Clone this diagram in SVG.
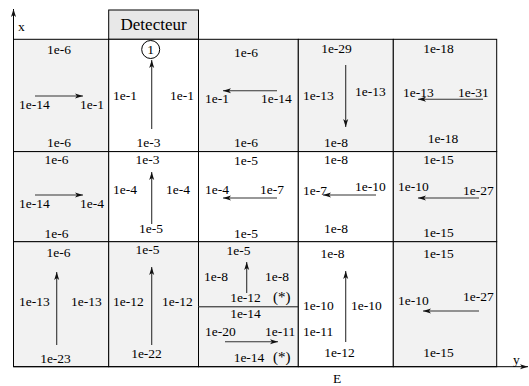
<svg xmlns="http://www.w3.org/2000/svg" width="529" height="386" viewBox="0 0 529 386" font-family="'Liberation Serif', 'Times New Roman', Times, serif">
<defs>
<style>
text{font-family:'Liberation Serif','Times New Roman',Times,serif;font-size:13.5px;fill:#000}
.m{text-anchor:middle}
.g{fill:#f2f2f2;stroke:#000;stroke-width:1}
.w{fill:#fff;stroke:#000;stroke-width:1}
.a{stroke:#333;stroke-width:1.1;fill:none;marker-end:url(#ah)}
</style>
<marker id="ah" markerUnits="userSpaceOnUse" markerWidth="9" markerHeight="6" refX="8" refY="3" orient="auto"><path d="M0,0.5 L8,3 L0,5.5 L2,3 z" fill="#111"/></marker>
</defs>
<rect width="529" height="386" fill="#fff"/>
<g id="detecteur"><rect x="108.7" y="10" width="89.8" height="29.3" fill="#e8e8e8" stroke="#000"/><text class="m" x="153.6" y="30" style="font-size:17px">Detecteur</text></g>
<g id="r1c1"><rect class="g" x="13.5" y="39.3" width="95.2" height="112.3"/><text class="m" x="59" y="54">1e-6</text><text x="19" y="109">1e-14</text><text x="80" y="109">1e-1</text><text class="m" x="59" y="147">1e-6</text></g>
<g id="r1c2"><rect class="w" x="108.7" y="39.3" width="89.8" height="112.3"/><circle cx="150.7" cy="49.5" r="9" fill="none" stroke="#000"/><text class="m" x="150.7" y="54">1</text><text x="113" y="100">1e-1</text><text x="170" y="100">1e-1</text><text class="m" x="148.5" y="147">1e-3</text></g>
<g id="r1c3"><rect class="g" x="198.5" y="39.3" width="99.8" height="112.3"/><text class="m" x="246" y="57">1e-6</text><text x="205" y="103">1e-1</text><text x="261" y="103">1e-14</text><text class="m" x="246" y="147">1e-6</text></g>
<g id="r1c4"><rect class="g" x="298.3" y="39.3" width="95" height="112.3"/><text class="m" x="336.5" y="53">1e-29</text><text x="303" y="100">1e-13</text><text x="355" y="96">1e-13</text><text class="m" x="336" y="147">1e-8</text></g>
<g id="r1c5"><rect class="g" x="393.3" y="39.3" width="103.4" height="112.3"/><text class="m" x="438.5" y="53">1e-18</text><text x="403" y="97">1e-13</text><text x="458" y="97">1e-31</text><text class="m" x="443" y="143">1e-18</text></g>
<g id="r2c1"><rect class="g" x="13.5" y="151.6" width="95.2" height="90.1"/><text class="m" x="56.5" y="164">1e-6</text><text x="19" y="208">1e-14</text><text x="80" y="208">1e-4</text><text class="m" x="56.5" y="237.5">1e-6</text></g>
<g id="r2c2"><rect class="w" x="108.7" y="151.6" width="89.8" height="90.1"/><text class="m" x="147.5" y="164">1e-3</text><text x="113" y="194">1e-4</text><text x="166" y="194">1e-4</text><text class="m" x="151" y="233">1e-5</text></g>
<g id="r2c3"><rect class="w" x="198.5" y="151.6" width="99.8" height="90.1"/><text class="m" x="246" y="165">1e-5</text><text x="205" y="194">1e-4</text><text x="260" y="194">1e-7</text><text class="m" x="246" y="237.5">1e-5</text></g>
<g id="r2c4"><rect class="w" x="298.3" y="151.6" width="95" height="90.1"/><text class="m" x="336" y="164">1e-8</text><text x="303" y="195">1e-7</text><text x="355" y="191">1e-10</text><text class="m" x="336" y="233">1e-8</text></g>
<g id="r2c5"><rect class="g" x="393.3" y="151.6" width="103.4" height="90.1"/><text class="m" x="438.5" y="164">1e-15</text><text x="398" y="191">1e-10</text><text x="463" y="195">1e-27</text><text class="m" x="438.5" y="237">1e-15</text></g>
<g id="r3c1"><rect class="g" x="13.5" y="241.7" width="95.2" height="125"/><text class="m" x="58.5" y="257">1e-6</text><text x="19" y="306">1e-13</text><text x="71" y="306">1e-13</text><text class="m" x="55.5" y="363">1e-23</text></g>
<g id="r3c2"><rect class="g" x="108.7" y="241.7" width="89.8" height="125"/><text class="m" x="147.5" y="254">1e-5</text><text x="113" y="306">1e-12</text><text x="162" y="306">1e-12</text><text class="m" x="146.5" y="358">1e-22</text></g>
<g id="r3c3a"><rect class="g" x="198.5" y="241.7" width="99.8" height="65"/><text class="m" x="238.5" y="255">1e-5</text><text x="204" y="281">1e-8</text><text x="265" y="281">1e-8</text><text class="m" x="245.5" y="302">1e-12</text><text x="273" y="302" style="font-size:15px">(*)</text></g>
<g id="r3c3b"><rect class="g" x="198.5" y="306.7" width="99.8" height="60"/><text class="m" x="245.5" y="318">1e-14</text><text x="205" y="336">1e-20</text><text x="265" y="336">1e-11</text><text class="m" x="249" y="362">1e-14</text><text x="273" y="362" style="font-size:15px">(*)</text></g>
<line x1="198.5" y1="306.7" x2="298.3" y2="306.7" stroke="#666" stroke-width="1"/>
<g id="r3c4"><rect class="w" x="298.3" y="241.7" width="95" height="125"/><text class="m" x="332.5" y="258">1e-8</text><text x="303" y="310">1e-10</text><text x="351" y="310">1e-10</text><text x="303" y="336">1e-11</text><text class="m" x="339.5" y="357">1e-12</text></g>
<g id="r3c5"><rect class="g" x="393.3" y="241.7" width="103.4" height="125"/><text class="m" x="438.5" y="258">1e-15</text><text x="398" y="305">1e-10</text><text x="463" y="301">1e-27</text><text class="m" x="438.5" y="357">1e-15</text></g>
<g id="axes">
<line x1="13.5" y1="366.7" x2="13.5" y2="9" stroke="#000" stroke-width="1" marker-end="url(#ah)"/>
<line x1="13.5" y1="366.7" x2="528" y2="366.7" stroke="#000" stroke-width="1" marker-end="url(#ah)"/>
<text x="18" y="31">x</text><text x="513" y="364">y</text><text x="333" y="383">E</text>
</g>
<g id="connectors">
<line class="a" x1="35" y1="96" x2="83" y2="96"/>
<line class="a" x1="151.7" y1="129" x2="151.7" y2="60"/>
<line class="a" x1="277" y1="90.7" x2="223" y2="90.7"/>
<line class="a" x1="345.7" y1="65" x2="345.7" y2="127"/>
<line class="a" x1="483" y1="99.3" x2="418" y2="99.3"/>
<line class="a" x1="35" y1="195" x2="83" y2="195"/>
<line class="a" x1="151.7" y1="224" x2="151.7" y2="172"/>
<line class="a" x1="277" y1="198" x2="223" y2="198"/>
<line class="a" x1="376" y1="195" x2="323" y2="195"/>
<line class="a" x1="479" y1="198" x2="418" y2="198"/>
<line class="a" x1="56.7" y1="345" x2="56.7" y2="272"/>
<line class="a" x1="151.7" y1="345" x2="151.7" y2="267"/>
<line class="a" x1="246.7" y1="293" x2="246.7" y2="262"/>
<line class="a" x1="225" y1="341.7" x2="278" y2="341.7"/>
<line class="a" x1="345.7" y1="342" x2="345.7" y2="271"/>
<line class="a" x1="479" y1="311" x2="423" y2="311"/>
</g>
</svg>
